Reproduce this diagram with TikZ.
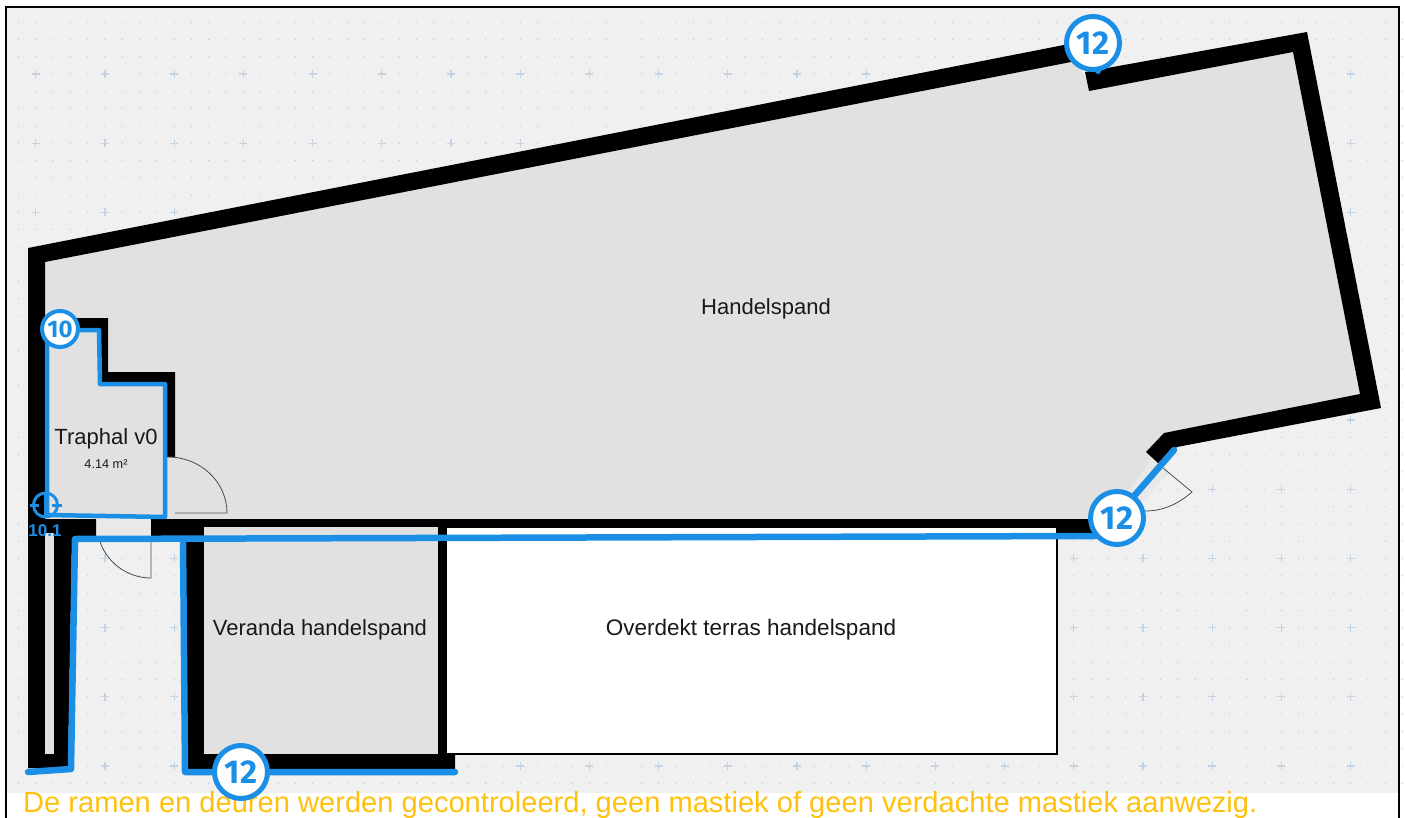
\documentclass[tikz,border=0pt]{standalone}
\usepackage{fontspec}
\setmainfont{Liberation Sans}
\newfontfamily\badgefont{Fira Sans}
\usepackage{xcolor}
\definecolor{planbg}{HTML}{F0F0F0}
\definecolor{roomgray}{HTML}{E1E1E1}
\definecolor{gapgray}{HTML}{E9E9E9}
\definecolor{measblue}{HTML}{1B8FE6}
\definecolor{plusblue}{HTML}{C3D3E2}
\definecolor{dotgray}{HTML}{C8C8C8}
\definecolor{noteorange}{HTML}{FFC10E}
\tikzset{
    wall/.style={fill=black, draw=none},
    room/.style={fill=roomgray, draw=none},
    gap/.style={fill=gapgray, draw=none},
    door/.style={draw=black!70, line width=0.8pt},
    meas/.style={draw=measblue, line width=6.5pt, line cap=round, line join=round},
    badge/.style={circle, draw=measblue, fill=white, line width=5pt, text=measblue, minimum size=53pt, inner sep=0pt, font=\badgefont\bfseries\fontsize{33}{33}\selectfont},
    smallbadge/.style={badge, line width=4pt, minimum size=36pt, font=\badgefont\bfseries\fontsize{24}{24}\selectfont},
    roomlabel/.style={inner sep=0pt, text=black!90, font=\fontsize{22}{22}\selectfont},
}
\begin{document}
\begin{tikzpicture}[x=1pt, y=-1pt]
    \useasboundingbox (0,0) rectangle (1405,818);
    \fill[white] (0,0) rectangle (1405,818);
    \fill[planbg] (7,8) rectangle (1398,793);

    % grid of the plan
    \foreach \i in {-5,...,75} {
        \foreach \j in {-43,...,1} {
            \fill[dotgray] ({105+17.3*\i},{766+17.3*\j}) circle (0.7);
        }
    }
    \foreach \i in {-1,...,18} {
        \foreach \j in {-10,...,0} {
            \draw[plusblue, line width=1.2pt] ({105+69.2*\i-4},{766+69.2*\j}) -- ++(8,0);
            \draw[plusblue, line width=1.2pt] ({105+69.2*\i},{766+69.2*\j-4}) -- ++(0,8);
        }
    }

    % rooms
    \fill[room] (36,256) -- (1071,53) -- (1087,80) -- (1300,42) -- (1371,400) -- (1170,440) -- (1128,500) -- (1087,522) -- (36,522) -- cycle;
    \fill[white, draw=black, line width=1.2pt] (446,527) rectangle (1057,754);
    \fill[gap] (1152,458) -- (1170,472) -- (1140,505) -- (1118,505) -- cycle;
    \fill[gap] (96,519) rectangle (151,537);

    % walls
    \fill[wall] (28,248) -- (1069,44) -- (1071,62) -- (45,262) -- (45,519) -- (96,519) -- (96,541) -- (72,541) -- (68,768) -- (28,768) -- cycle;
    \fill[room] (45,533) rectangle (54,754);
    \fill[wall] (1085,72) -- (1307,32) -- (1381,408) -- (1177,447) -- (1158,463) -- (1146,452) -- (1164,433) -- (1360,394) -- (1293,52) -- (1089,91) -- cycle;
    \fill[wall] (72,318) -- (108,318) -- (108,372) -- (175,372) -- (175,457) -- (165,457) -- (165,384) -- (100,384) -- (100,330) -- (72,330) -- cycle;
    \fill[wall] (151,519) -- (1100,519) -- (1100,533) -- (1057,533) -- (1057,527) -- (446,527) -- (446,754) -- (455,754) -- (455,772) -- (186,772) -- (186,541) -- (151,541) -- cycle;
    \fill[room] (204,527) rectangle (438,754);

    % doors
    \draw[door] (175,513) -- (227,513) arc[start angle=0, end angle=-90, x radius=59, y radius=56];
    \draw[door] (151,540) -- (151,578) arc[start angle=90, end angle=165, radius=54];
    \draw[door] (1163,468) -- (1192,492) .. controls (1177,505) and (1162,511) .. (1145,511);

    % measured lines
    \draw[meas, line width=4.5pt] (47,333) -- (47,515) -- (165,517) -- (165,384) -- (100,384) -- (99,330) -- (61,330);
    \draw[meas] (28,772) -- (71,769) -- (75,539) -- (1095,536);
    \draw[meas] (183,539) -- (185,772) -- (455,772);
    \draw[meas] (1115,518) -- (1174,450);
    \fill[measblue] (1098,71) circle (3);

    % compass
    \draw[measblue, line width=3pt] (45.5,505) circle (12);
    \draw[measblue, line width=3pt] (30,505) -- (39,505) (52,505) -- (62,505) (45.5,492) -- (45.5,518);

    % labels
    \node[roomlabel] (handelspand) at (766,309) {Handelspand};
    \node[roomlabel] (traphal) at (106,439) {Traphal v0};
    \node[inner sep=0pt, text=black!90, font=\fontsize{12.7}{13}\selectfont, below=20pt] (area) at (traphal) {4.14 m²};
    \node[roomlabel] (veranda) at (320,630) {Veranda handelspand};
    \node[roomlabel, font=\fontsize{22.5}{22}\selectfont] (terras) at (751,630) {Overdekt terras handelspand};
    \node[text=measblue, inner sep=0pt, font=\bfseries\fontsize{17}{17}\selectfont] (compasslabel) at (45,531) {10.1};

    \node[anchor=base west, inner sep=0pt, text=noteorange, font=\fontsize{29.1}{30}\selectfont] (note) at (23,812) {De ramen en deuren werden gecontroleerd, geen mastiek of geen verdachte mastiek aanwezig.};

    \node[badge] (badgetop) at (1093,43) {12};
    \node[badge] (badgedoor) at (1117,518) {12};
    \node[badge] (badgebottom) at (241,772) {12};
    \node[smallbadge] (badgehal) at (60,329) {10};

    % frame
    \draw[black, line width=2.5pt] (6,818) -- (6,7) -- (1399,7) -- (1399,818);
\end{tikzpicture}
\end{document}
